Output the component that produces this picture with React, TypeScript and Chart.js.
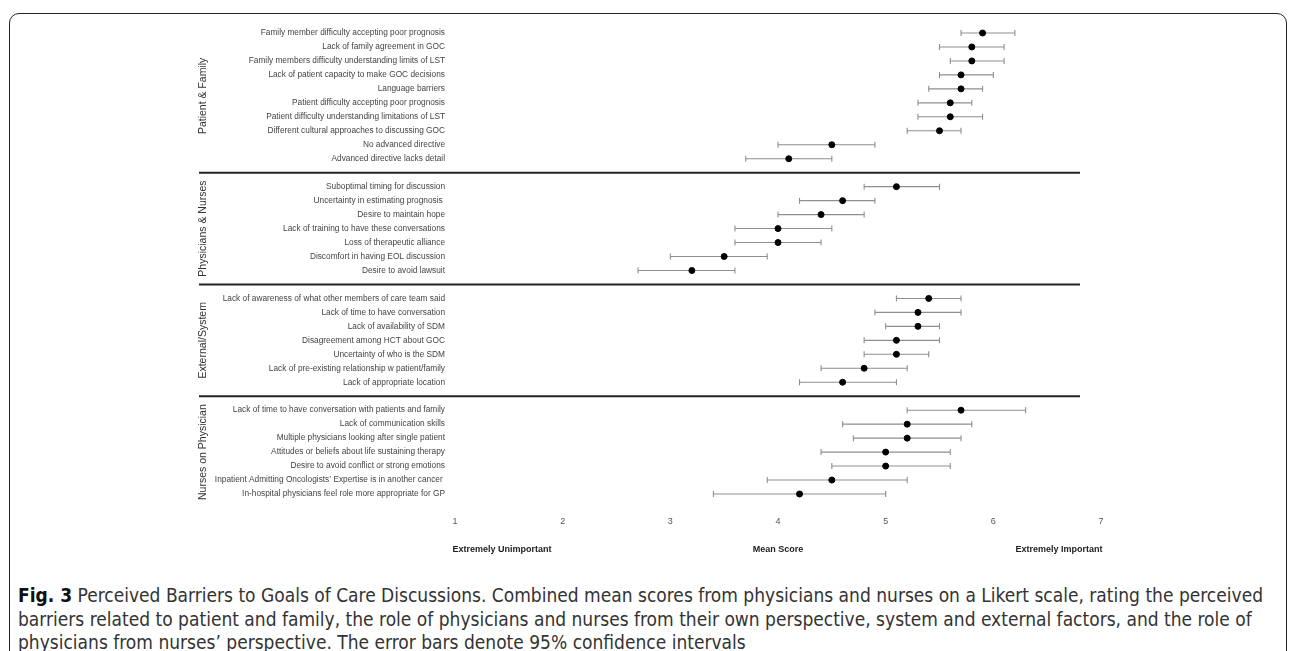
import React, { useEffect, useRef } from "react";
import { Chart, registerables } from "chart.js";

Chart.register(...registerables);

const sectionNames = ["Patient & Family", "Physicians & Nurses", "External/System", "Nurses on Physician"];

const patientFamilyLabels = [
  "Family member difficulty accepting poor prognosis",
  "Lack of family agreement in GOC",
  "Family members difficulty understanding limits of LST",
  "Lack of patient capacity to make GOC decisions",
  "Language barriers",
  "Patient difficulty accepting poor prognosis",
  "Patient difficulty understanding limitations of LST",
  "Different cultural approaches to discussing GOC",
  "No advanced directive",
  "Advanced directive lacks detail",
];
const patientFamilyMeans = [5.9, 5.8, 5.8, 5.7, 5.7, 5.6, 5.6, 5.5, 4.5, 4.1];
const patientFamilyLow = [5.7, 5.5, 5.6, 5.5, 5.4, 5.3, 5.3, 5.2, 4.0, 3.7];
const patientFamilyHigh = [6.2, 6.1, 6.1, 6.0, 5.9, 5.8, 5.9, 5.7, 4.9, 4.5];

const physiciansNursesLabels = [
  "Suboptimal timing for discussion",
  "Uncertainty in estimating prognosis ",
  "Desire to maintain hope",
  "Lack of training to have these conversations",
  "Loss of therapeutic alliance",
  "Discomfort in having EOL discussion",
  "Desire to avoid lawsuit",
];
const physiciansNursesMeans = [5.1, 4.6, 4.4, 4.0, 4.0, 3.5, 3.2];
const physiciansNursesLow = [4.8, 4.2, 4.0, 3.6, 3.6, 3.0, 2.7];
const physiciansNursesHigh = [5.5, 4.9, 4.8, 4.5, 4.4, 3.9, 3.6];

const externalLabels = [
  "Lack of awareness of what other members of care team said",
  "Lack of time to have conversation",
  "Lack of availability of SDM",
  "Disagreement among HCT about GOC",
  "Uncertainty of who is the SDM",
  "Lack of pre-existing relationship w patient/family",
  "Lack of appropriate location",
];
const externalMeans = [5.4, 5.3, 5.3, 5.1, 5.1, 4.8, 4.6];
const externalLow = [5.1, 4.9, 5.0, 4.8, 4.8, 4.4, 4.2];
const externalHigh = [5.7, 5.7, 5.5, 5.5, 5.4, 5.2, 5.1];

const nursesLabels = [
  "Lack of time to have conversation with patients and family",
  "Lack of communication skills",
  "Multiple physicians looking after single patient",
  "Attitudes or beliefs about life sustaining therapy",
  "Desire to avoid conflict or strong emotions",
  "Inpatient Admitting Oncologists\u2019 Expertise is in another cancer ",
  "In-hospital physicians feel role more appropriate for GP",
];
const nursesMeans = [5.7, 5.2, 5.2, 5.0, 5.0, 4.5, 4.2];
const nursesLow = [5.2, 4.6, 4.7, 4.4, 4.5, 3.9, 3.4];
const nursesHigh = [6.3, 5.8, 5.7, 5.6, 5.6, 5.2, 5.0];

const xTickLabels = ["1", "2", "3", "4", "5", "6", "7"];

const sectionLabels = [patientFamilyLabels, physiciansNursesLabels, externalLabels, nursesLabels];
const sectionMeans = [patientFamilyMeans, physiciansNursesMeans, externalMeans, nursesMeans];
const sectionLow = [patientFamilyLow, physiciansNursesLow, externalLow, nursesLow];
const sectionHigh = [patientFamilyHigh, physiciansNursesHigh, externalHigh, nursesHigh];

// Build combined rows (with a blank gap row between sections)
const rowLabels: string[] = [];
const rowMeans: (number | null)[] = [];
const rowLow: (number | null)[] = [];
const rowHigh: (number | null)[] = [];
const sectionRanges: { start: number; end: number }[] = [];
const gapRows: number[] = [];
sectionLabels.forEach((labels, s) => {
  if (s > 0) {
    gapRows.push(rowLabels.length);
    rowLabels.push("");
    rowMeans.push(null);
    rowLow.push(null);
    rowHigh.push(null);
  }
  const start = rowLabels.length;
  labels.forEach((l, i) => {
    rowLabels.push(l);
    rowMeans.push(sectionMeans[s][i]);
    rowLow.push(sectionLow[s][i]);
    rowHigh.push(sectionHigh[s][i]);
  });
  sectionRanges.push({ start, end: rowLabels.length - 1 });
});

const FONT = "'Liberation Sans', Arial, sans-serif";

const decorPlugin = {
  id: "decor",
  beforeDatasetsDraw(chart: any) {
    const { ctx } = chart;
    const xs = chart.scales.x;
    const ys = chart.scales.y;
    ctx.save();
    ctx.strokeStyle = "#8f8f8f";
    ctx.lineWidth = 1.1;
    for (let i = 0; i < rowLabels.length; i++) {
      const lo = rowLow[i];
      const hi = rowHigh[i];
      if (lo == null || hi == null) continue;
      const y = ys.getPixelForValue(i);
      const x1 = xs.getPixelForValue(lo);
      const x2 = xs.getPixelForValue(hi);
      ctx.beginPath();
      ctx.moveTo(x1, y);
      ctx.lineTo(x2, y);
      ctx.moveTo(x1, y - 3);
      ctx.lineTo(x1, y + 3);
      ctx.moveTo(x2, y - 3);
      ctx.lineTo(x2, y + 3);
      ctx.stroke();
    }
    ctx.restore();
  },
  afterDraw(chart: any) {
    const { ctx } = chart;
    const ys = chart.scales.y;
    ctx.save();
    ctx.strokeStyle = "#222";
    ctx.lineWidth = 2;
    gapRows.forEach((g) => {
      const y = ys.getPixelForValue(g);
      ctx.beginPath();
      ctx.moveTo(199, y);
      ctx.lineTo(1080, y);
      ctx.stroke();
    });
    ctx.fillStyle = "#333";
    ctx.font = `10.5px ${FONT}`;
    ctx.textAlign = "center";
    ctx.textBaseline = "middle";
    sectionRanges.forEach((r, s) => {
      const yc = (ys.getPixelForValue(r.start) + ys.getPixelForValue(r.end)) / 2;
      ctx.save();
      ctx.translate(203, yc);
      ctx.rotate(-Math.PI / 2);
      ctx.fillText(sectionNames[s], 0, 0);
      ctx.restore();
    });
    ctx.restore();
  },
};

export default function App() {
  const canvasRef = useRef<HTMLCanvasElement | null>(null);

  useEffect(() => {
    if (!canvasRef.current) return;
    const chart = new Chart(canvasRef.current, {
      type: "line",
      data: {
        labels: rowLabels,
        datasets: [
          {
            label: "Mean Score",
            data: rowMeans as any,
            showLine: false,
            pointRadius: 3,
            pointBorderWidth: 1,
            pointBackgroundColor: "#000",
            pointBorderColor: "#000",
            borderColor: "#000",
            spanGaps: false,
          },
        ],
      },
      options: {
        indexAxis: "y",
        responsive: false,
        animation: false,
        layout: { padding: { top: 26, right: 191, left: 0, bottom: 0 } },
        plugins: { legend: { display: false }, tooltip: { enabled: false } },
        scales: {
          y: {
            type: "category",
            offset: true,
            grid: { display: false, drawTicks: false },
            border: { display: false },
            ticks: {
              autoSkip: false,
              padding: 10,
              color: "#444",
              font: { family: FONT, size: 8.3 },
            },
            afterFit(scale: any) {
              scale.width = 455;
            },
          },
          x: {
            type: "linear",
            min: 1,
            max: 7,
            grid: { display: false, drawTicks: false },
            border: { display: false },
            ticks: {
              stepSize: 1,
              padding: 15,
              color: "#555",
              font: { family: FONT, size: 9 },
              callback: (v: any) => xTickLabels[Number(v) - 1] ?? "",
            },
            afterFit(scale: any) {
              scale.height = 69;
            },
          },
        },
      },
      plugins: [decorPlugin],
    });
    return () => chart.destroy();
  }, []);

  const axisText: React.CSSProperties = {
    position: "absolute",
    top: 544,
    font: `bold 9px ${FONT}`,
    color: "#222",
    whiteSpace: "nowrap",
    transform: "translateX(-50%)",
  };

  const captionLine: React.CSSProperties = {
    whiteSpace: "nowrap",
    height: 23.5,
    lineHeight: "23.5px",
  };

  return (
    <div
      style={{
        position: "absolute",
        left: 0,
        top: 0,
        width: 1292,
        height: 651,
        overflow: "hidden",
        background: "#fff",
      }}
    >
      <div
        style={{
          position: "absolute",
          left: 9,
          top: 13,
          width: 1276,
          height: 720,
          border: "1.5px solid #222",
          borderRadius: 10,
        }}
      />
      <canvas ref={canvasRef} width={1292} height={570} style={{ position: "absolute", left: 0, top: 0 }} />
      <div style={{ ...axisText, left: 502 }}>Extremely Unimportant</div>
      <div style={{ ...axisText, left: 778 }}>Mean Score</div>
      <div style={{ ...axisText, left: 1059 }}>Extremely Important</div>
      <div
        style={{
          position: "absolute",
          left: 18,
          top: 584,
          fontFamily: "'DejaVu Sans Condensed', 'Liberation Sans Narrow', Roboto, sans-serif",
          fontSize: 19,
          color: "#333",
        }}
      >
        <div style={captionLine}>
          <b style={{ color: "#111" }}>Fig. 3</b> Perceived Barriers to Goals of Care Discussions. Combined mean scores from physicians and nurses on a Likert scale, rating the perceived
        </div>
        <div style={captionLine}>
          barriers related to patient and family, the role of physicians and nurses from their own perspective, system and external factors, and the role of
        </div>
        <div style={captionLine}>
          physicians from nurses’ perspective. The error bars denote 95% confidence intervals
        </div>
      </div>
    </div>
  );
}
